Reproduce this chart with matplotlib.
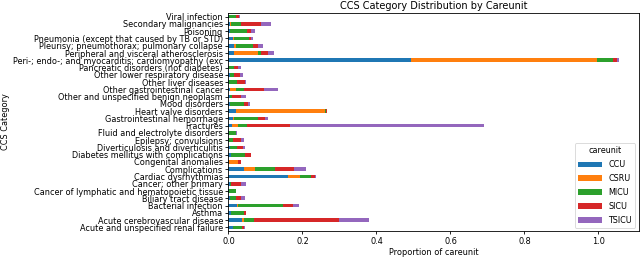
import numpy as np
import matplotlib
matplotlib.use("Agg")
import matplotlib.pyplot as plt

# categories, bottom to top (as pandas barh draws them)
categories = [
    "Acute and unspecified renal failure",
    "Acute cerebrovascular disease",
    "Asthma",
    "Bacterial infection",
    "Biliary tract disease",
    "Cancer of lymphatic and hematopoietic tissue",
    "Cancer; other primary",
    "Cardiac dysrhythmias",
    "Complications",
    "Congenital anomalies",
    "Diabetes mellitus with complications",
    "Diverticulosis and diverticulitis",
    "Epilepsy; convulsions",
    "Fluid and electrolyte disorders",
    "Fractures",
    "Gastrointestinal hemorrhage",
    "Heart valve disorders",
    "Mood disorders",
    "Other and unspecified benign neoplasm",
    "Other gastrointestinal cancer",
    "Other liver diseases",
    "Other lower respiratory disease",
    "Pancreatic disorders (not diabetes)",
    "Peri-; endo-; and myocarditis; cardiomyopathy (exc",
    "Peripheral and visceral atherosclerosis",
    "Pleurisy; pneumothorax; pulmonary collapse",
    "Pneumonia (except that caused by TB or STD)",
    "Poisoning",
    "Secondary malignancies",
    "Viral infection",
]

careunits = ["CCU", "CSRU", "MICU", "SICU", "TSICU"]

ccu = [0.011, 0.036, 0.008, 0.022, 0.003, 0.002, 0.004, 0.161, 0.041, 0.001,
       0.007, 0.003, 0.002, 0.002, 0.009, 0.012, 0.020, 0.005, 0.003, 0.005,
       0.001, 0.003, 0.002, 0.492, 0.016, 0.014, 0.011, 0.005, 0.005, 0.002]
csru = [0.000, 0.005, 0.000, 0.003, 0.000, 0.000, 0.000, 0.032, 0.032, 0.026,
        0.000, 0.000, 0.000, 0.000, 0.017, 0.002, 0.242, 0.000, 0.001, 0.015,
        0.000, 0.002, 0.000, 0.505, 0.065, 0.007, 0.003, 0.000, 0.001, 0.000]
micu = [0.025, 0.027, 0.033, 0.123, 0.016, 0.017, 0.004, 0.031, 0.054, 0.000,
        0.038, 0.021, 0.009, 0.017, 0.025, 0.066, 0.001, 0.036, 0.006, 0.023,
        0.021, 0.011, 0.012, 0.043, 0.008, 0.046, 0.042, 0.044, 0.028, 0.017]
sicu = [0.005, 0.230, 0.007, 0.027, 0.014, 0.002, 0.027, 0.009, 0.050, 0.007,
        0.015, 0.014, 0.023, 0.002, 0.114, 0.020, 0.002, 0.013, 0.025, 0.054,
        0.024, 0.014, 0.013, 0.009, 0.019, 0.013, 0.006, 0.011, 0.054, 0.009]
tsicu = [0.005, 0.081, 0.000, 0.015, 0.011, 0.000, 0.012, 0.004, 0.033, 0.001,
         0.002, 0.006, 0.007, 0.001, 0.525, 0.007, 0.000, 0.004, 0.012, 0.037,
         0.002, 0.010, 0.008, 0.007, 0.015, 0.014, 0.005, 0.013, 0.026, 0.003]

series = [ccu, csru, micu, sicu, tsicu]
colors = ["#1f77b4", "#ff7f0e", "#2ca02c", "#d62728", "#9467bd"]

fig = plt.figure(figsize=(6.4, 2.61), dpi=100)
ax = fig.add_axes([0.357, 0.115, 0.641, 0.835])

y = np.arange(len(categories))
left = np.zeros(len(categories))
for name, vals, c in zip(careunits, series, colors):
    ax.barh(y, vals, height=0.5, left=left, color=c, label=name)
    left += np.array(vals)

ax.set_yticks(y)
ax.set_yticklabels(categories, fontsize=5.9)
ax.set_ylim(-0.5, len(categories) - 0.5)
ax.tick_params(axis="both", length=2.5, width=0.6, pad=1.5)
ax.tick_params(axis="x", labelsize=5.9)
for s in ax.spines.values():
    s.set_linewidth(0.6)
ax.set_xlabel("Proportion of careunit", fontsize=5.9, labelpad=2)
ax.set_ylabel("CCS Category", fontsize=5.9, labelpad=2)
ax.set_title("CCS Category Distribution by Careunit", fontsize=7, pad=3)
leg = ax.legend(title="careunit", loc="lower right", fontsize=5.8,
                title_fontsize=5.8, handlelength=3, labelspacing=0.6,
                borderaxespad=0.4)
leg.get_frame().set_linewidth(0.6)

fig.savefig("out.png", dpi=100)
